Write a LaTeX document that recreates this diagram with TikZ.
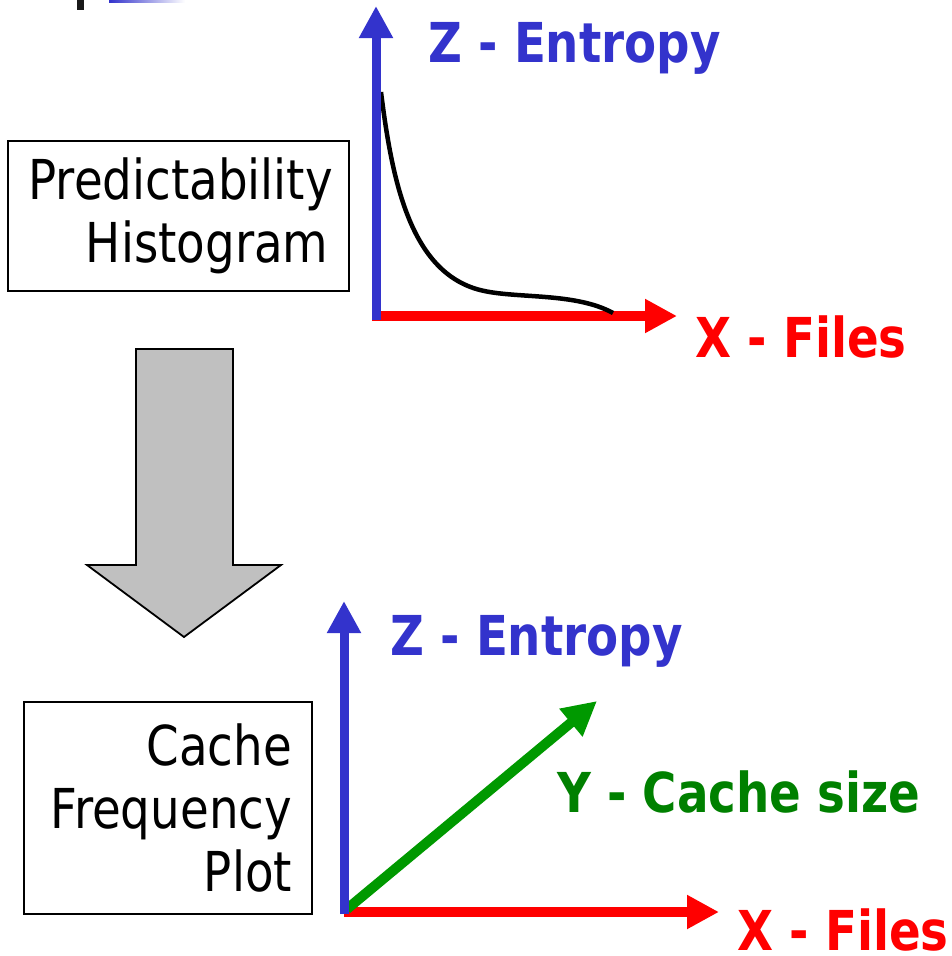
\documentclass[tikz,border=0pt]{standalone}
\usepackage{fontspec}
\setmainfont{DejaVu Sans}[FakeStretch=0.85]
\usetikzlibrary{arrows.meta}
\definecolor{AxisBlue}{HTML}{3333CC}
\definecolor{AxisRed}{HTML}{FF0000}
\definecolor{AxisGreen}{HTML}{009900}
\definecolor{LabelGreen}{HTML}{008000}
\definecolor{ArrowGray}{HTML}{C0C0C0}
\tikzset{
  axisbox/.style={
    draw=black, line width=1.8pt, fill=white, inner sep=0pt,
    align=right, font=\fontsize{55}{63}\selectfont
  },
  zaxis/.style={-{Triangle[length=32pt,width=32pt]}, line width=9pt, draw=AxisBlue},
  xaxis/.style={-{Triangle[length=32pt,width=32pt]}, line width=10pt, draw=AxisRed},
  yaxis/.style={-{Triangle[length=34pt,width=34pt]}, line width=10pt, draw=AxisGreen},
  axislabel/.style={anchor=base west, inner sep=0pt, font=\fontsize{55}{63}\selectfont\bfseries},
  curve/.style={line width=4.5pt, draw=black}
}
\begin{document}
\begin{tikzpicture}[x=1pt,y=-1pt]
    \useasboundingbox (0,0) rectangle (952,956);
    % cut-off pieces at the top edge
    \fill[black!90] (77,0) rectangle (84,10);
    \shade[left color=AxisBlue, right color=white] (109,0) rectangle (185,2);

    % upper plot
    \node[axisbox, minimum width=341pt, minimum height=150pt, text width=300pt] (hist) at (178.5,216) {Predictability\\Histogram};
    \coordinate (o1) at (376,316);
    \coordinate (z1) at (376,6);
    \coordinate (x1) at (677,316);
    \draw[xaxis] (372,316) -- (x1);
    \draw[curve] (381,92) .. controls (392,180) and (410,272) .. (480,290)
                 .. controls (515,299) and (575,292) .. (613,313);
    \draw[zaxis] (376,320) -- (z1);
    \node[axislabel, text=AxisBlue] (zlab1) at (428,62) {Z - Entropy};
    \node[axislabel, text=AxisRed] (xlab1) at (695,357) {X - Files};

    % big arrow between the two
    \draw[line width=1.8pt, fill=ArrowGray] (136,349) -- (233,349) -- (233,565) -- (281,565)
        -- (184,637) -- (87,565) -- (136,565) -- cycle;

    % lower plot
    \node[axisbox, minimum width=288pt, minimum height=212pt, text width=248pt] (cache) at (168,808) {Cache\\Frequency\\Plot};
    \coordinate (o2) at (344,912);
    \coordinate (z2) at (344,601);
    \coordinate (x2) at (719,912);
    \coordinate (y2) at (597,701);
    \draw[xaxis] (o2) -- (x2);
    \draw[yaxis] (347,909) -- (y2);
    \draw[zaxis] (344,914) -- (z2);
    \node[axislabel, text=AxisBlue] (zlab2) at (390,655) {Z - Entropy};
    \node[axislabel, text=LabelGreen] (ylab2) at (557,812) {Y - Cache size};
    \node[axislabel, text=AxisRed] (xlab2) at (737,950) {X - Files};
\end{tikzpicture}
\end{document}
